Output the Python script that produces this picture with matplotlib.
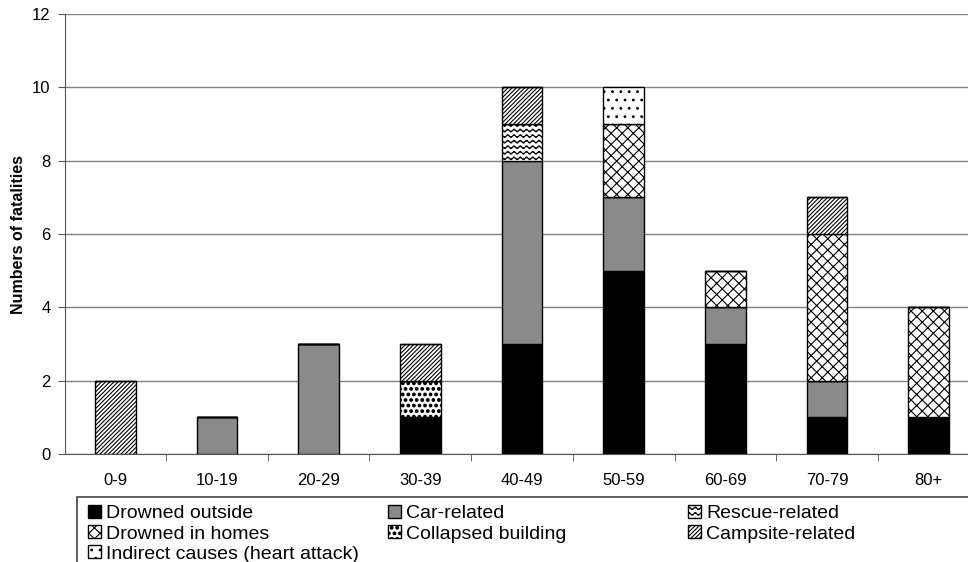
import matplotlib
matplotlib.use('Agg')
import matplotlib.pyplot as plt
import matplotlib.hatch as mhatch
from matplotlib.path import Path
from matplotlib.patches import Rectangle
import numpy as np

# age groups and fatalities by cause
age_groups = ['0-9', '10-19', '20-29', '30-39', '40-49', '50-59', '60-69', '70-79', '80+']
drowned_outside = [0, 0, 0, 1, 3, 5, 3, 1, 1]
collapsed_building = [0, 0, 0, 1, 0, 0, 0, 0, 0]
car_related = [0, 1, 3, 0, 5, 2, 1, 1, 0]
rescue_related = [0, 0, 0, 0, 1, 0, 0, 0, 0]
drowned_homes = [0, 0, 0, 0, 0, 2, 1, 4, 3]
campsite_related = [2, 0, 0, 1, 1, 0, 0, 1, 0]
indirect_causes = [0, 0, 0, 0, 0, 1, 0, 0, 0]


# wavy hatch for the rescue-related bars ('~')
class WaveHatch:
    periods = 16

    def __init__(self, hatch, density):
        self.num_lines = int(hatch.count('~') * density)
        self.num_pts = self.periods * 8 + 1
        self.num_vertices = self.num_lines * self.num_pts

    def set_vertices_and_codes(self, vertices, codes):
        steps, stepsize = np.linspace(0.0, 1.0, self.num_lines, False, retstep=True)
        steps += stepsize / 2.
        t = np.linspace(0, 1, self.num_pts)
        for i, s in enumerate(steps):
            sl = slice(i * self.num_pts, (i + 1) * self.num_pts)
            vertices[sl, 0] = t
            vertices[sl, 1] = s + 0.25 * stepsize * np.sin(2 * np.pi * self.periods * t)
            codes[sl] = Path.LINETO
            codes[i * self.num_pts] = Path.MOVETO


# bigger filled dots for the collapsed-building bars (':')
class BigDots(mhatch.Circles):
    size = 0.24
    filled = True

    def __init__(self, hatch, density):
        self.num_rows = hatch.count(':') * density
        super().__init__(hatch, density)


mhatch._hatch_types.extend([WaveHatch, BigDots])
mhatch._validate_hatch_pattern = lambda h: None

plt.rcParams['font.family'] = ['Liberation Sans', 'DejaVu Sans']
plt.rcParams['hatch.linewidth'] = 0.8

# series in stacking order, bottom to top
series = [
    ('Drowned outside', drowned_outside, 'black', ''),
    ('Collapsed building', collapsed_building, 'white', ':::'),
    ('Car-related', car_related, '#8a8a8a', ''),
    ('Rescue-related', rescue_related, 'white', '~~~'),
    ('Drowned in homes', drowned_homes, 'white', 'xxx'),
    ('Campsite-related', campsite_related, 'white', '////////'),
    ('Indirect causes (heart attack)', indirect_causes, 'white', '..'),
]

fig = plt.figure(figsize=(9.68, 5.62), dpi=100)
ax = fig.add_axes([64.5 / 968, 108 / 562, 915 / 968, 440 / 562])

x = np.arange(len(age_groups))
bottom = np.zeros(len(age_groups))
handles = {}
for label, vals, fc, hatch in series:
    vals = np.array(vals, dtype=float)
    bars = ax.bar(x, vals, width=0.4, bottom=bottom, color=fc, edgecolor='black',
                  linewidth=1.0, hatch=hatch, label=label, zorder=3)
    handles[label] = bars
    bottom += vals

ax.set_xlim(-0.5, 8.5)
ax.set_ylim(0, 12)
ax.set_yticks(np.arange(0, 13, 2))
ax.yaxis.grid(True, color='#808080', linewidth=1.0, zorder=0)
ax.set_axisbelow(True)

ax.set_xticks(x)
ax.set_xticklabels(age_groups, fontsize=12)
ax.set_xticks(np.arange(0.5, 8.5, 1), minor=True)
ax.tick_params(axis='x', which='major', length=0, pad=14)
ax.tick_params(axis='x', which='minor', length=5, direction='out', color='#555555')
ax.tick_params(axis='y', labelsize=12, length=5, direction='out', color='#555555', pad=5)

for side in ['top', 'right']:
    ax.spines[side].set_visible(False)
ax.spines['left'].set_color('#555555')
ax.spines['bottom'].set_color('#555555')

ax.set_ylabel('Numbers of fatalities', fontsize=11.5, fontweight='bold', labelpad=4)

# legend: three columns at fixed positions inside one frame
columns = [
    (88, ['Drowned outside', 'Drowned in homes', 'Indirect causes (heart attack)']),
    (388, ['Car-related', 'Collapsed building']),
    (688, ['Rescue-related', 'Campsite-related']),
]
for xpos, labels in columns:
    leg = fig.legend([handles[l] for l in labels], labels, loc='upper left',
                     bbox_to_anchor=(xpos / 968, 1 - 505 / 562), frameon=False,
                     fontsize=14, handlelength=0.68, handleheight=0.68,
                     handletextpad=0.26, labelspacing=0.13, borderpad=0,
                     borderaxespad=0)

fig.add_artist(Rectangle((77 / 968, -0.1), 2, (562 - 497) / 562 + 0.1,
                         transform=fig.transFigure, fill=False,
                         edgecolor='#444444', linewidth=1.2))

fig.savefig('out.png', dpi=100)
